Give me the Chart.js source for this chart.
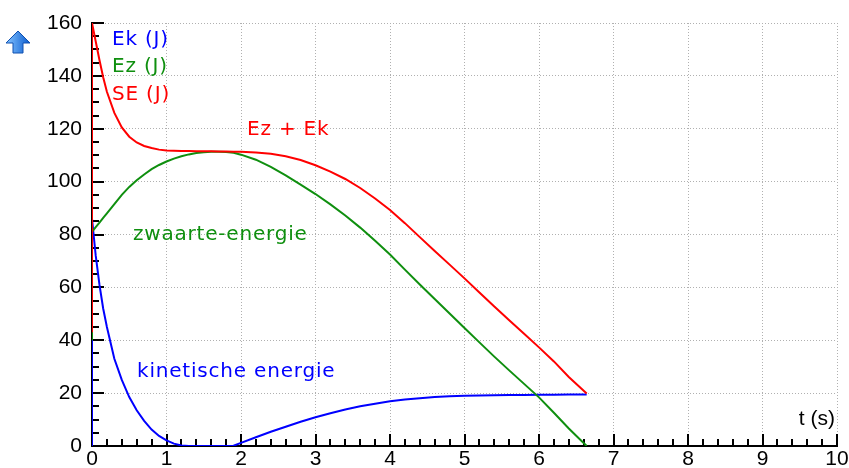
<!DOCTYPE html>
<html><head><meta charset="utf-8">
<script src="https://cdn.jsdelivr.net/npm/chart.js@4"></script>
<style>html,body{margin:0;padding:0;background:#fff}#wrap{width:849px;height:468px;position:relative}</style>
</head><body><div id="wrap"><canvas id="c" width="849" height="468"></canvas></div>
<script>
// time (s)
const tValues = [0,0,0.05,0.1,0.15,0.2,0.3,0.4,0.5,0.6,0.7,0.8,0.9,1.0,1.1,1.2,1.3,1.4,1.5,1.6,1.7,1.8,1.9,2.0,2.2,2.4,2.6,2.8,3.0,3.2,3.4,3.6,3.8,4.0,4.2,4.4,4.6,4.8,5.0,5.2,5.4,5.6,5.8,6.0,6.2,6.4,6.64];
// kinetische energie Ek (J)
const ekValues = [0,86,72,61,52,45,33,25,18.5,13.5,9.5,6.2,3.8,2.1,0.9,0.2,0,0,0,0,0,0,0.1,1.2,3.3,5.4,7.3,9.2,10.9,12.4,13.8,15,16,16.9,17.6,18.1,18.5,18.8,19.0,19.1,19.2,19.3,19.3,19.4,19.4,19.5,19.5];
// zwaarte-energie Ez (J)
const ezValues = [40,81,82.8,84.5,86.3,88,91.5,95,98,100.5,102.7,104.7,106.3,107.6,108.7,109.6,110.3,110.8,111.1,111.3,111.3,111.2,110.9,110.2,108.3,105.6,102.4,98.9,95.3,91.4,87.2,82.6,77.6,72.4,66.7,61.1,55.6,50.1,44.6,39.2,33.8,28.6,23.5,18.4,12.6,6.6,0];
// Ez + Ek, SE (J)
const seValues = [43,160,153,146,139.5,134,126,120.5,117,114.8,113.5,112.7,112.1,111.8,111.7,111.6,111.6,111.5,111.5,111.5,111.4,111.4,111.3,111.3,111.0,110.5,109.6,108.2,106.2,103.8,101,97.6,93.6,89.3,84.3,79,73.8,68.6,63.4,58.1,52.8,47.6,42.5,37.3,32.0,26.1,19.9];
// tick labels
const xTickLabels = ['0','1','2','3','4','5','6','7','8','9','10'];
const yTickLabels = ['0','20','40','60','80','100','120','140','160'];

const pts = arr => arr.map((v,i)=>({x:tValues[i], y:v}));
const RED='#ff0000', GREEN='#0f8f0f', BLUE='#0000ff';

const overlay = {
  id:'overlay',
  beforeDatasetsDraw(chart){
    const {ctx, scales:{x,y}, chartArea:a} = chart;
    ctx.save();
    ctx.strokeStyle='#000'; ctx.lineWidth=2;
    ctx.beginPath();
    for(let i=0;i<=50;i++){
      const px=Math.round(x.getPixelForValue(i*0.2));
      const len=(i%5===0)?12:7;
      ctx.moveTo(px,a.bottom); ctx.lineTo(px,a.bottom-len);
    }
    for(let i=0;i<=32;i++){
      const py=Math.round(y.getPixelForValue(i*5));
      const len=(i%4===0)?12:7;
      ctx.moveTo(a.left,py); ctx.lineTo(a.left+len,py);
    }
    ctx.stroke();
    ctx.restore();
  },
  afterDatasetsDraw(chart){
    const {ctx} = chart;
    ctx.save();
    ctx.font='20px "DejaVu Sans"';
    try{ctx.letterSpacing='0.8px';}catch(e){}
    ctx.textBaseline='alphabetic'; ctx.textAlign='left';
    const txt=(s,x,y,c)=>{ctx.fillStyle=c; ctx.fillText(s,x,y);};
    txt('Ek (J)',112,45,BLUE);
    txt('Ez (J)',112,72,GREEN);
    txt('SE (J)',112,100,RED);
    txt('Ez + Ek',247,135,RED);
    txt('zwaarte-energie',133,240,GREEN);
    txt('kinetische energie',137,377,BLUE);
    try{ctx.letterSpacing='0px';}catch(e){}
    ctx.font='21px "Liberation Sans"';
    ctx.textAlign='right';
    txt('t (s)',835,425,'#000');
    // up-arrow icon
    const g=ctx.createLinearGradient(7,0,29,0);
    g.addColorStop(0,'#7fc0ff'); g.addColorStop(1,'#1060d0');
    ctx.fillStyle=g; ctx.strokeStyle='#1050b0'; ctx.lineWidth=1;
    ctx.beginPath();
    ctx.moveTo(18,31); ctx.lineTo(30,43); ctx.lineTo(23,43); ctx.lineTo(23,53);
    ctx.lineTo(13,53); ctx.lineTo(13,43); ctx.lineTo(6,43); ctx.closePath();
    ctx.fill(); ctx.stroke();
    ctx.restore();
  }
};

const tickFont={family:'"Liberation Sans", Arial, sans-serif', size:21};
new Chart(document.getElementById('c'),{
  type:'line',
  data:{datasets:[
    {label:'SE (J)', data:pts(seValues), borderColor:RED, borderWidth:2, pointRadius:0, tension:0, fill:false},
    {label:'Ez (J)', data:pts(ezValues), borderColor:GREEN, borderWidth:2, pointRadius:0, tension:0, fill:false},
    {label:'Ek (J)', data:pts(ekValues), borderColor:BLUE, borderWidth:2, pointRadius:0, tension:0, fill:false}
  ]},
  options:{
    responsive:false, animation:false,
    layout:{padding:{left:0,right:12,top:23,bottom:0}},
    plugins:{legend:{display:false}, tooltip:{enabled:false}},
    scales:{
      x:{type:'linear', min:0, max:10,
        ticks:{stepSize:1, padding:1, color:'#000', font:tickFont, maxRotation:0, autoSkip:false,
          callback:(v)=>xTickLabels[Math.round(v)]},
        grid:{color:'#b0b0b0', lineWidth:1, drawTicks:false},
        border:{color:'#000', width:2, dash:[1,2]},
        afterFit(s){s.height=22; s.paddingLeft=0; s.paddingRight=0;}
      },
      y:{type:'linear', min:0, max:160,
        ticks:{stepSize:20, padding:10, color:'#000', font:tickFont,
          callback:(v)=>yTickLabels[Math.round(v/20)]},
        grid:{color:'#b0b0b0', lineWidth:1, drawTicks:false},
        border:{color:'#000', width:2, dash:[1,2]},
        afterFit(s){s.width=92; s.paddingTop=0; s.paddingBottom=0;}
      }
    }
  },
  plugins:[overlay]
});
</script></body></html>
